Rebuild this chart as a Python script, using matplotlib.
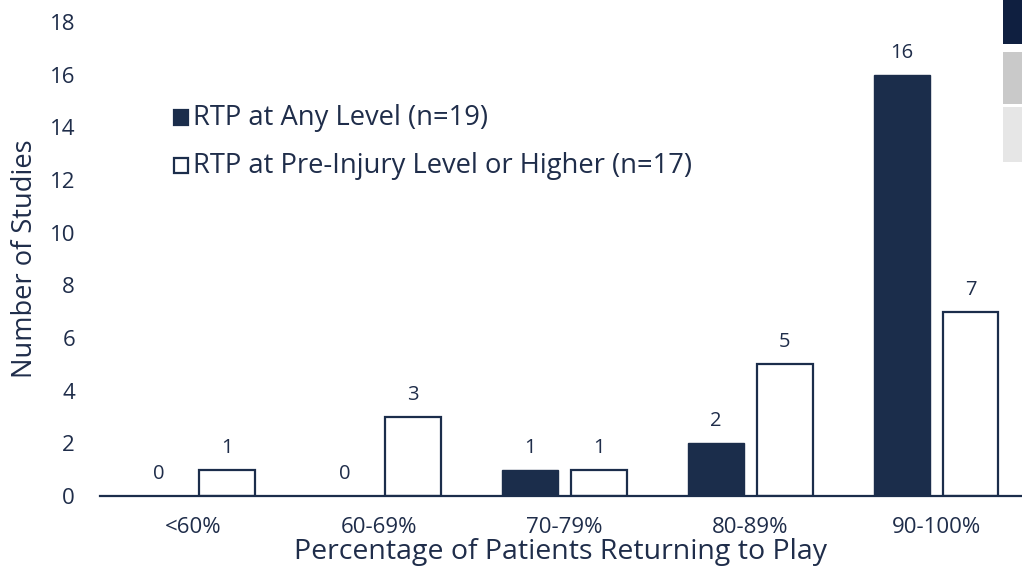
import matplotlib
matplotlib.use("Agg")
import matplotlib.pyplot as plt
from matplotlib.patches import Rectangle
import numpy as np

categories = ["<60%", "60-69%", "70-79%", "80-89%", "90-100%"]
any_level = [0, 0, 1, 2, 16]
pre_injury = [1, 3, 1, 5, 7]
series_names = ["RTP at Any Level (n=19)", "RTP at Pre-Injury Level or Higher (n=17)"]
y_ticks = [0, 2, 4, 6, 8, 10, 12, 14, 16, 18]

NAVY = "#1b2d4b"
TEXT = "#1f2d4a"

plt.rcParams["font.family"] = ["Open Sans", "DejaVu Sans"]

W, H = 1022, 577
fig = plt.figure(figsize=(W / 100, H / 100), dpi=100)
ax = fig.add_axes([100 / W, (H - 496) / H, 1 - 100 / W, (496 - 22) / H])

x = np.arange(len(categories))
bw = 0.30
off = 0.185
b1 = ax.bar(x - off, any_level, bw, color=NAVY, edgecolor=NAVY, linewidth=1.0)
b2 = ax.bar(x + off, pre_injury, bw, color="white", edgecolor=NAVY, linewidth=1.6)

for bars, vals in ((b1, any_level), (b2, pre_injury)):
    for rect, v in zip(bars, vals):
        ax.annotate(str(v), (rect.get_x() + rect.get_width() / 2, v),
                    xytext=(0, 12), textcoords="offset pixels",
                    ha="center", va="bottom", fontsize=14.5, color=TEXT)

ax.set_xlim(-0.5, 4 + (1022 - 936) / 186)
ax.set_ylim(0, 18)
ax.set_yticks(y_ticks)
ax.set_xticks(x)
ax.set_xticklabels(categories)
ax.tick_params(axis="both", length=0, labelsize=16, colors=TEXT)
ax.tick_params(axis="y", pad=18)
ax.tick_params(axis="x", pad=15)
for s in ("top", "right", "left"):
    ax.spines[s].set_visible(False)
ax.spines["bottom"].set_color(NAVY)
ax.spines["bottom"].set_linewidth(1.6)

ax.set_xlabel("Percentage of Patients Returning to Play", fontsize=20.5, color=TEXT, labelpad=0)
fig.text(25 / W, 1 - 259 / H, "Number of Studies", rotation=90, ha="center", va="center",
         fontsize=19.6, color=TEXT)

# legend drawn by hand
leg_rows = [(117, NAVY), (165, "white")]
for (yc, fc), name in zip(leg_rows, series_names):
    fig.patches.append(Rectangle((174 / W, 1 - (yc + 8) / H), 14 / W, 15 / H,
                                 transform=fig.transFigure, facecolor=fc,
                                 edgecolor=NAVY, linewidth=1.6))
    fig.text(193 / W, 1 - (yc + 1) / H, name, ha="left", va="center", fontsize=19.7, color=TEXT)

# side panel blocks at right edge
for (y0, y1, c) in [(0, 44, "#0f1f40"), (52, 104, "#c9c9c9"), (107, 162, "#e6e6e6")]:
    fig.patches.append(Rectangle((1003 / W, 1 - y1 / H), 19 / W, (y1 - y0) / H,
                                 transform=fig.transFigure, facecolor=c, edgecolor="none"))

fig.savefig("out.png", dpi=100)
